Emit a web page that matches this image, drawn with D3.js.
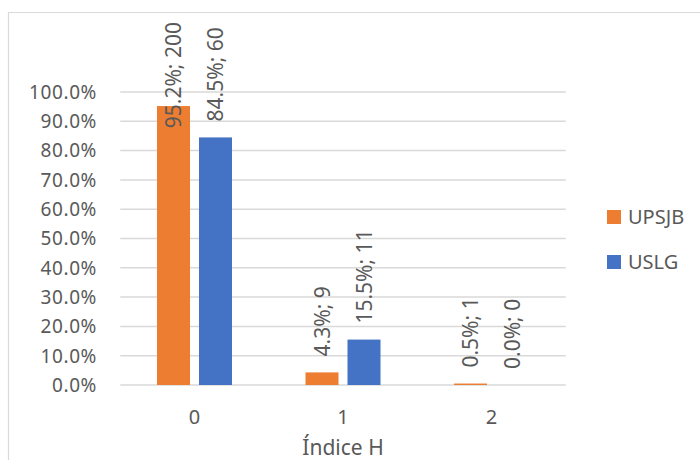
<!DOCTYPE html>
<html>
<head>
<meta charset="utf-8">
<script src="https://cdn.jsdelivr.net/npm/d3@7"></script>
<style>
  html, body { margin: 0; padding: 0; background: #fff; }
  svg { display: block; font-family: "Noto Sans", "Open Sans", sans-serif; }
</style>
</head>
<body>
<svg id="chart" width="700" height="460"></svg>
<script>
// Índice H categories and the two groups compared
const categories = ["0", "1", "2"];
const seriesNames = ["UPSJB", "USLG"];
const upsjbShare = [0.952, 0.043, 0.005];
const upsjbCount = [200, 9, 1];
const uslgShare = [0.845, 0.155, 0.0];
const uslgCount = [60, 11, 0];
const yTicks = [0, 0.1, 0.2, 0.3, 0.4, 0.5, 0.6, 0.7, 0.8, 0.9, 1.0];
const xTitle = "Índice H";

const colors = { UPSJB: "#ED7D31", USLG: "#4472C4" };
const textColor = "#595959";
const gridColor = "#d9d9d9";

const svg = d3.select("#chart");

// outer frame lines
svg.append("line").attr("x1", 8).attr("x2", 700).attr("y1", 12.5).attr("y2", 12.5)
  .attr("stroke", gridColor).attr("stroke-width", 1.2);
svg.append("line").attr("x1", 8.5).attr("x2", 8.5).attr("y1", 12).attr("y2", 460)
  .attr("stroke", gridColor).attr("stroke-width", 1.2);

const plot = { left: 120.25, right: 565.75, top: 92, bottom: 385 };

const x0 = d3.scaleBand().domain(categories).range([plot.left, plot.right]).padding(0);
const x1 = d3.scaleBand().domain(seriesNames).range([0, x0.bandwidth()])
  .paddingInner(9 / 42).paddingOuter(0.875);
const y = d3.scaleLinear().domain([0, 1]).range([plot.bottom, plot.top]);

// horizontal gridlines
svg.append("g").selectAll("line").data(yTicks).join("line")
  .attr("x1", plot.left).attr("x2", plot.right)
  .attr("y1", d => y(d)).attr("y2", d => y(d))
  .attr("stroke", gridColor).attr("stroke-width", 1.5);

// y axis tick labels
const fmt = d => (d * 100).toFixed(1) + "%";
svg.append("g").selectAll("text").data(yTicks).join("text")
  .attr("x", 97).attr("y", d => y(d)).attr("dy", "0.36em")
  .attr("text-anchor", "end").attr("fill", textColor)
  .style("font-size", "19px").style("letter-spacing", "0.6px").text(fmt);

// bar records
const rows = [];
categories.forEach((c, i) => {
  rows.push({ cat: c, s: "UPSJB", v: upsjbShare[i], n: upsjbCount[i] });
  rows.push({ cat: c, s: "USLG", v: uslgShare[i], n: uslgCount[i] });
});

svg.append("g").selectAll("rect").data(rows).join("rect")
  .attr("x", d => x0(d.cat) + x1(d.s))
  .attr("width", x1.bandwidth())
  .attr("y", d => y(d.v))
  .attr("height", d => y(0) - y(d.v))
  .attr("fill", d => colors[d.s]);

// rotated value labels, kept inside the chart's top margin
const labelTopLimit = 22;
svg.append("g").selectAll("text").data(rows).join("text")
  .attr("fill", textColor).style("font-size", "21px")
  .attr("text-anchor", "start")
  .text(d => (d.v * 100).toFixed(1) + "%; " + d.n)
  .each(function (d) {
    const len = this.getComputedTextLength();
    const cx = x0(d.cat) + x1(d.s) + x1.bandwidth() / 2;
    let base = y(d.v) - 16;
    if (base - len < labelTopLimit) base = labelTopLimit + len;
    d3.select(this)
      .attr("transform", `translate(${cx},${base}) rotate(-90)`)
      .attr("dy", "0.36em");
  });

// x tick labels
svg.append("g").selectAll("text").data(categories).join("text")
  .attr("x", d => x0(d) + x0.bandwidth() / 2).attr("y", 417).attr("dy", "0.36em")
  .attr("text-anchor", "middle").attr("fill", textColor)
  .style("font-size", "20px").text(d => d);

// x axis title
svg.append("text")
  .attr("x", (plot.left + plot.right) / 2).attr("y", 455)
  .attr("text-anchor", "middle").attr("fill", textColor)
  .style("font-size", "21px").text(xTitle);

// legend
const legend = svg.append("g").selectAll("g").data(seriesNames).join("g")
  .attr("transform", (d, i) => `translate(607,${210 + i * 45})`);
legend.append("rect").attr("width", 14).attr("height", 14).attr("fill", d => colors[d]);
legend.append("text").attr("x", 21).attr("y", 7).attr("dy", "0.36em")
  .attr("fill", textColor).style("font-size", "20px").text(d => d);
</script>
</body>
</html>
